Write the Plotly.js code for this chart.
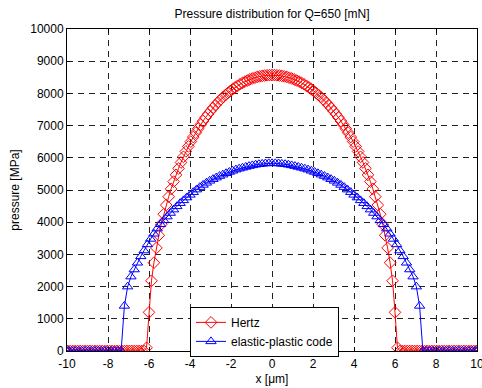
<!DOCTYPE html>
<html>
<head>
<meta charset="utf-8">
<script src="https://cdn.plot.ly/plotly-3.0.1.min.js"></script>
<style>
html,body{margin:0;padding:0;background:#fff;}
#chart{width:482px;height:388px;}
</style>
</head>
<body>
<div id="chart"></div>
<script>
// Hertz pressure (MPa) vs x (µm)
var hertzX = [-10, -9.96, -9.84, -9.72, -9.6, -9.48, -9.36, -9.24, -9.12, -9, -8.88, -8.76, -8.64, -8.52, -8.4, -8.28, -8.16, -8.04, -7.92, -7.8, -7.68, -7.56, -7.44, -7.32, -7.2, -7.08, -6.96, -6.84, -6.72, -6.6, -6.48, -6.36, -6.24,
  -6.12, -6, -5.88, -5.76, -5.64, -5.52, -5.4, -5.28, -5.16, -5.04, -4.92, -4.8, -4.68, -4.56, -4.44, -4.32, -4.2, -4.08, -3.96, -3.84, -3.72, -3.6, -3.48, -3.36, -3.24, -3.12, -3, -2.88, -2.76, -2.64, -2.52, -2.4, -2.28, -2.16, -2.04, -1.92, -1.8, -1.68, -1.56, -1.44, -1.32, -1.2, -1.08, -0.96, -0.84, -0.72, -0.6, -0.48, -0.36, -0.24, -0.12,
  0,
  0.12, 0.24, 0.36, 0.48, 0.6, 0.72, 0.84, 0.96, 1.08, 1.2, 1.32, 1.44, 1.56, 1.68, 1.8, 1.92, 2.04, 2.16, 2.28, 2.4, 2.52, 2.64, 2.76, 2.88, 3, 3.12, 3.24, 3.36, 3.48, 3.6, 3.72, 3.84, 3.96, 4.08, 4.2, 4.32, 4.44, 4.56, 4.68, 4.8, 4.92, 5.04, 5.16, 5.28, 5.4, 5.52, 5.64, 5.76, 5.88, 6, 6.12,
  6.24, 6.36, 6.48, 6.6, 6.72, 6.84, 6.96, 7.08, 7.2, 7.32, 7.44, 7.56, 7.68, 7.8, 7.92, 8.04, 8.16, 8.28, 8.4, 8.52, 8.64, 8.76, 8.88, 9, 9.12, 9.24, 9.36, 9.48, 9.6, 9.72, 9.84, 9.96, 10];
var hertzP = [0, 0, 0, 0, 0, 0, 0, 0, 0, 0, 0, 0, 0, 0, 0, 0, 0, 0, 0, 0, 0, 0, 0, 0, 0, 0, 0, 0, 0, 0, 0, 0, 0,
  100, 1200, 2180, 2743, 3201, 3592, 3938, 4249, 4533, 4793, 5035, 5260, 5471, 5669, 5855, 6030, 6197, 6354, 6503, 6644, 6779, 6906, 7027, 7142, 7252, 7356, 7454, 7548, 7636, 7720, 7799, 7874, 7945, 8011, 8073, 8131, 8186, 8236, 8283, 8326, 8366, 8401, 8434, 8463, 8488, 8510, 8528, 8543, 8555, 8563, 8568,
  8570,
  8568, 8563, 8555, 8543, 8528, 8510, 8488, 8463, 8434, 8401, 8366, 8326, 8283, 8236, 8186, 8131, 8073, 8011, 7945, 7874, 7799, 7720, 7636, 7548, 7454, 7356, 7252, 7142, 7027, 6906, 6779, 6644, 6503, 6354, 6197, 6030, 5855, 5669, 5471, 5260, 5035, 4793, 4533, 4249, 3938, 3592, 3201, 2743, 2180, 1200, 100,
  0, 0, 0, 0, 0, 0, 0, 0, 0, 0, 0, 0, 0, 0, 0, 0, 0, 0, 0, 0, 0, 0, 0, 0, 0, 0, 0, 0, 0, 0, 0, 0, 0];

// elastic-plastic code pressure (MPa) vs x (µm)
var epX = [-10, -9.92, -9.76, -9.6, -9.44, -9.28, -9.12, -8.96, -8.8, -8.64, -8.48, -8.32, -8.16, -8, -7.84, -7.68, -7.52, -7.36,
  -7.2, -7.04, -6.88, -6.72, -6.56, -6.4, -6.24, -6.08, -5.92, -5.76, -5.6, -5.44, -5.28, -5.12, -4.96, -4.8, -4.64, -4.48, -4.32, -4.16, -4, -3.84, -3.68, -3.52, -3.36, -3.2, -3.04, -2.88, -2.72, -2.56, -2.4, -2.24, -2.08, -1.92, -1.76, -1.6, -1.44, -1.28, -1.12, -0.96, -0.8, -0.64, -0.48, -0.32, -0.16,
  0,
  0.16, 0.32, 0.48, 0.64, 0.8, 0.96, 1.12, 1.28, 1.44, 1.6, 1.76, 1.92, 2.08, 2.24, 2.4, 2.56, 2.72, 2.88, 3.04, 3.2, 3.36, 3.52, 3.68, 3.84, 4, 4.16, 4.32, 4.48, 4.64, 4.8, 4.96, 5.12, 5.28, 5.44, 5.6, 5.76, 5.92, 6.08, 6.24, 6.4, 6.56, 6.72, 6.88, 7.04, 7.2,
  7.36, 7.52, 7.68, 7.84, 8, 8.16, 8.32, 8.48, 8.64, 8.8, 8.96, 9.12, 9.28, 9.44, 9.6, 9.76, 9.92, 10];
var epP = [0, 0, 0, 0, 0, 0, 0, 0, 0, 0, 0, 0, 0, 0, 0, 0, 0, 0,
  1400, 2000, 2310, 2530, 2740, 2940, 3120, 3310, 3480, 3640, 3800, 3935, 4055, 4175, 4285, 4390, 4493, 4590, 4678, 4765, 4850, 4932, 5012, 5090, 5157, 5222, 5285, 5336, 5385, 5433, 5476, 5519, 5560, 5597, 5633, 5662, 5690, 5716, 5742, 5764, 5785, 5800, 5811, 5824, 5828,
  5830,
  5828, 5824, 5811, 5800, 5785, 5764, 5742, 5716, 5690, 5662, 5633, 5597, 5560, 5519, 5476, 5433, 5385, 5336, 5285, 5222, 5157, 5090, 5012, 4932, 4850, 4765, 4678, 4590, 4493, 4390, 4285, 4175, 4055, 3935, 3800, 3640, 3480, 3310, 3120, 2940, 2740, 2530, 2310, 2000, 1400,
  0, 0, 0, 0, 0, 0, 0, 0, 0, 0, 0, 0, 0, 0, 0, 0, 0, 0];

var seriesNames = ["Hertz", "elastic-plastic code"];
var xTicks = [-10, -8, -6, -4, -2, 0, 2, 4, 6, 8, 10];
var yTicks = [0, 1000, 2000, 3000, 4000, 5000, 6000, 7000, 8000, 9000, 10000];

var font = "Liberation Sans, Arial, sans-serif";

var traces = [
  {
    x: hertzX, y: hertzP, name: seriesNames[0], type: "scatter", mode: "lines+markers",
    line: {color: "#ff0000", width: 1},
    marker: {symbol: "diamond-open", size: 9, color: "#ff0000", line: {width: 1, color: "#ff0000"}}
  },
  {
    x: epX, y: epP, name: seriesNames[1], type: "scatter", mode: "lines+markers",
    line: {color: "#0000ff", width: 1},
    marker: {symbol: "triangle-up-open", size: 9, color: "#0000ff", line: {width: 1, color: "#0000ff"}}
  }
];

var axisCommon = {
  showline: true, linecolor: "#000", linewidth: 1, mirror: "ticks",
  ticks: "inside", ticklen: 4, tickcolor: "#000",
  showgrid: true, gridcolor: "#222", gridwidth: 1, griddash: "6px,5px",
  zeroline: false,
  tickfont: {family: font, size: 12, color: "#000"}
};

var layout = {
  width: 482, height: 388,
  margin: {l: 67, r: 5, t: 29, b: 37},
  paper_bgcolor: "#fff", plot_bgcolor: "#fff",
  title: {text: "Pressure distribution for Q=650 [mN]", font: {family: font, size: 12, color: "#000"},
          x: 0.5, xref: "paper", xanchor: "center", y: 0.965, yref: "container", yanchor: "middle"},
  xaxis: Object.assign({}, axisCommon, {
    range: [-10, 10], tickvals: xTicks, ticktext: xTicks.map(String),
    ticklabeloverflow: "allow", ticklabelstandoff: 2,
    title: {text: "x [\u03bcm]", font: {family: font, size: 12, color: "#000"}, standoff: 4}
  }),
  yaxis: Object.assign({}, axisCommon, {
    range: [0, 10000], tickvals: yTicks, ticktext: yTicks.map(String),
    title: {text: "pressure [MPa]", font: {family: font, size: 12, color: "#000"}, standoff: 8}
  }),
  showlegend: true,
  legend: {
    x: 0.30, y: 0.137, xanchor: "left", yanchor: "top",
    bgcolor: "#fff", bordercolor: "#000", borderwidth: 1,
    font: {family: font, size: 12, color: "#000"},
    tracegroupgap: 0
  }
};

Plotly.newPlot("chart", traces, layout, {displayModeBar: false, staticPlot: true});
</script>
</body>
</html>
